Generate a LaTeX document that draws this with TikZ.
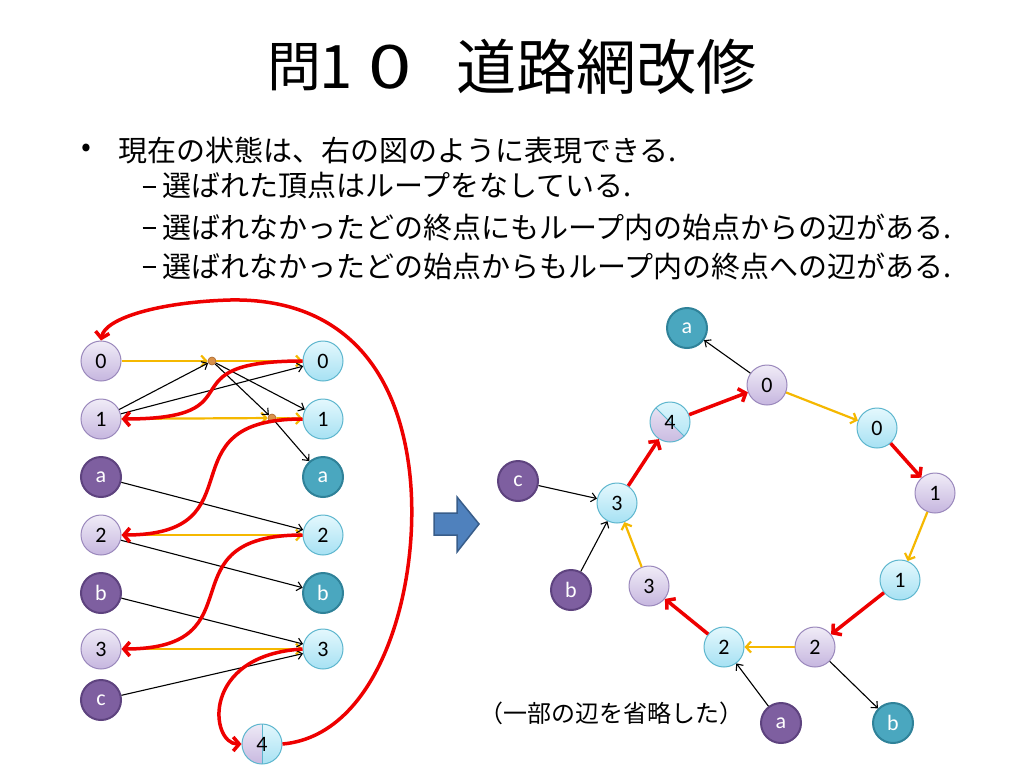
\documentclass[tikz,border=0pt]{standalone}
\usepackage{fontspec}
\usepackage{graphicx}
\setmainfont{Carlito}
\newfontfamily\jp{Noto Sans CJK JP}
\newfontfamily\lab{Carlito}
\usetikzlibrary{arrows.meta}
\definecolor{lpB}{HTML}{9A88BC}
\definecolor{lpT}{HTML}{F0ECF7}
\definecolor{lpL}{HTML}{C6B6DF}
\definecolor{lcB}{HTML}{5DB6CE}
\definecolor{lcT}{HTML}{E4F8FD}
\definecolor{lcL}{HTML}{A6E1F3}
\definecolor{dpF}{HTML}{7E5FA0}
\definecolor{dpB}{HTML}{5E437F}
\definecolor{dtF}{HTML}{4AA7BF}
\definecolor{dtB}{HTML}{2F8299}
\definecolor{dotF}{HTML}{D9914A}
\definecolor{dotB}{HTML}{A8642A}
\definecolor{yelC}{HTML}{F5B800}
\definecolor{redC}{HTML}{EE0000}
\definecolor{blkF}{HTML}{4F81BD}
\definecolor{blkB}{HTML}{385D8A}
\tikzset{
  nd/.style={circle, minimum size=40pt, inner sep=0pt, font=\lab\fontsize{22}{22}\selectfont},
  nlp/.style={nd, draw=lpB, line width=1pt, top color=lpT, bottom color=lpL},
  nlc/.style={nd, draw=lcB, line width=1pt, top color=lcT, bottom color=lcL},
  ndp/.style={nd, draw=dpB, line width=2pt, fill=dpF, text=white},
  ndt/.style={nd, draw=dtB, line width=2pt, fill=dtF, text=white},
  nsplit/.style={nd, draw=lcB, line width=1pt},
  jdot/.style={circle, minimum size=8pt, inner sep=0pt, fill=dotF, draw=dotB, line width=0.6pt},
  bk/.style={draw=black, line width=1.1pt, -{Straight Barb[length=5pt,width=9pt]}},
  ye/.style={draw=yelC, line width=2.2pt, -{Straight Barb[length=5pt,width=11pt]}},
  rd/.style={draw=redC, line width=3.5pt, -{Straight Barb[length=6pt,width=14pt]}},
  jtxt/.style={inner sep=0pt, anchor=west, font=\jp\fontsize{29}{29}\selectfont},
  ttl/.style={inner sep=0pt, font=\jp\fontsize{60}{60}\selectfont},
  dsh/.style={inner sep=0pt},
}
\begin{document}
\begin{tikzpicture}[x=1pt,y=-1pt]
\useasboundingbox[fill=white] (0,0) rectangle (1024,768);

% title and bullets
\node[ttl, font=\jp\fontsize{54}{54}\selectfont] (title0) at (294,67) {問};
\node[ttl] (title1) at (336,67) {1};
\node[ttl] (title2) at (390,67) {\scalebox{1.3}[1]{0}};
\node[ttl, anchor=west] (title3) at (456,67) {道路網改修};
\node[font=\jp\fontsize{29}{29}\selectfont, inner sep=0pt] (b0) at (86,150) {•};
\node[jtxt] (t1) at (118,150) {現在の状態は、右の図のように表現できる.};
\node[dsh] (b1) at (149,187) {\rule{13pt}{1.8pt}};
\node[jtxt] (t2) at (162,186) {選ばれた頂点はループをなしている.};
\node[dsh] (b2) at (149,228) {\rule{13pt}{1.8pt}};
\node[jtxt] (t3) at (162,227) {選ばれなかったどの終点にもループ内の始点からの辺がある.};
\node[dsh] (b3) at (149,267) {\rule{13pt}{1.8pt}};
\node[jtxt] (t4) at (162,266) {選ばれなかったどの始点からもループ内の終点への辺がある.};

% ---------- left graph ----------
\node[nlp] (L0) at (101,361) {0};
\node[nlp] (L1) at (101,419) {1};
\node[ndp] (La) at (101,477) {a};
\node[nlp] (L2) at (101,535) {2};
\node[ndp] (Lb) at (101,593) {b};
\node[nlp] (L3) at (101,649) {3};
\node[ndp] (Lc) at (101,700) {c};
\node[nlc] (R0) at (323,361) {0};
\node[nlc] (R1) at (323,419) {1};
\node[ndt] (Ra) at (323,477) {a};
\node[nlc] (R2) at (323,535) {2};
\node[ndt] (Rb) at (323,593) {b};
\node[nlc] (R3) at (323,649) {3};
% split node 4
\begin{scope}
  \clip (262,744) circle (20);
  \shade[top color=lpT, bottom color=lpL] (240,722) rectangle (262,766);
  \shade[top color=lcT, bottom color=lcL] (262,722) rectangle (284,766);
\end{scope}
\draw[lcB, line width=0.8pt] (262,724) -- (262,764);
\node[nsplit] (L4) at (262,744) {4};
\node[jdot] (d1) at (212,361) {};
\node[jdot] (d2) at (272,418) {};

% yellow edges
\draw[ye] (L0) -- (d1);
\draw[ye] (d1) -- (R0);
\draw[ye] (L1) -- (d2);
\draw[ye] (d2) -- (R1);
\draw[ye] (L2) -- (R2);
\draw[ye] (L3) -- (R3);
% black edges
\draw[bk] (L1) -- (d1);
\draw[bk] (L1) -- (R0);
\draw[bk] (d1) -- (d2);
\draw[bk] (d1) -- (R1);
\draw[bk] (d2) -- (Ra);
\draw[bk] (La) -- (R2);
\draw[bk] (L2) -- (Rb);
\draw[bk] (Lb) -- (R3);
\draw[bk] (Lc) -- (R3);
% red curves
\draw[rd] (R0.west) .. controls (160,361) and (262,419) .. (L1.east);
\draw[rd] (R1.west) .. controls (160,419) and (262,535) .. (L2.east);
\draw[rd] (R2.west) .. controls (160,535) and (262,649) .. (L3.east);
\draw[rd] (R3.west) .. controls (200,655) and (210,744) .. (L4.west);
\draw[rd] (L4.east) .. controls (385,735) and (425,570) .. (408,460)
          .. controls (392,355) and (330,298) .. (230,300)
          .. controls (160,302) and (105,318) .. (L0.north);

% block arrow
\filldraw[fill=blkF, draw=blkB, line width=1.5pt, line join=miter]
  (434,513) -- (457,513) -- (457,497) -- (479,524) -- (457,552) -- (457,535) -- (434,535) -- cycle;

% ---------- right graph ----------
\node[ndt] (Qa) at (687,328) {a};
\node[nlp] (P0) at (767,385) {0};
\node[nlc] (Q0) at (877,428) {0};
\node[nlp] (P1) at (935,493) {1};
\node[nlc] (Q1) at (900,580) {1};
\node[nlp] (P2) at (815,647) {2};
\node[nlc] (Q2) at (724,647) {2};
\node[nlp] (P3) at (649,586) {3};
\node[nlc] (Q3) at (617,503) {3};
\node[ndp] (Pc) at (518,481) {c};
\node[ndp] (Pb) at (571,590) {b};
\node[ndp] (Pa) at (781,723) {a};
\node[ndt] (Qb) at (893,723) {b};
\begin{scope}
  \clip (670,422) circle (20);
  \shade[top color=lpT, bottom color=lpL] (645,397) -- (695,447) -- (645,447) -- cycle;
  \shade[top color=lcT, bottom color=lcL] (645,397) -- (695,397) -- (695,447) -- cycle;
\end{scope}
\draw[lcB, line width=0.8pt] (656,408) -- (684,436);
\node[nsplit] (Q4) at (670,422) {4};

\draw[bk] (P0) -- (Qa);
\draw[ye] (P0) -- (Q0);
\draw[rd] (Q0) -- (P1);
\draw[ye] (P1) -- (Q1);
\draw[rd] (Q1) -- (P2);
\draw[ye] (P2) -- (Q2);
\draw[bk] (P2) -- (Qb);
\draw[bk] (Pa) -- (Q2);
\draw[rd] (Q2) -- (P3);
\draw[ye] (P3) -- (Q3);
\draw[bk] (Pb) -- (Q3);
\draw[bk] (Pc) -- (Q3);
\draw[rd] (Q3) -- (Q4);
\draw[rd] (Q4) -- (P0);

\node[font=\jp\fontsize{24}{24}\selectfont, inner sep=0pt] (cap) at (611,713) {（一部の辺を省略した）};
\end{tikzpicture}
\end{document}
